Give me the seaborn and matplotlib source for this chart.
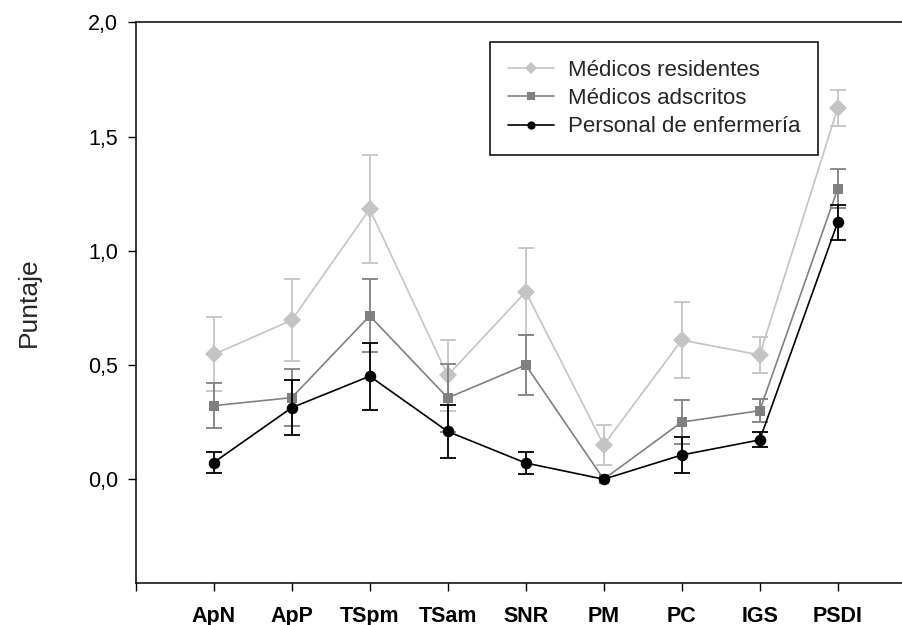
import numpy as np
import pandas as pd
import matplotlib
matplotlib.use("Agg")
import matplotlib.pyplot as plt
from matplotlib.lines import Line2D
import seaborn as sns

categories = ["ApN", "ApP", "TSpm", "TSam", "SNR", "PM", "PC", "IGS", "PSDI"]
series_names = ["Médicos residentes", "Médicos adscritos", "Personal de enfermería"]

residentes = [0.546, 0.696, 1.182, 0.454, 0.820, 0.150, 0.609, 0.544, 1.624]
residentes_err = [0.162, 0.180, 0.237, 0.157, 0.190, 0.087, 0.166, 0.079, 0.079]
adscritos = [0.322, 0.357, 0.715, 0.356, 0.500, 0.000, 0.250, 0.300, 1.271]
adscritos_err = [0.100, 0.125, 0.160, 0.149, 0.131, 0.000, 0.097, 0.050, 0.086]
enfermeria = [0.073, 0.313, 0.451, 0.209, 0.071, 0.000, 0.106, 0.172, 1.124]
enfermeria_err = [0.047, 0.120, 0.146, 0.116, 0.047, 0.000, 0.078, 0.033, 0.076]

y_ticks = [0.0, 0.5, 1.0, 1.5, 2.0]
y_tick_labels = ["0,0", "0,5", "1,0", "1,5", "2,0"]

sns.set_theme(style="white")
plt.rcParams["font.family"] = ["Liberation Sans", "DejaVu Sans"]

x_pos = np.arange(1, len(categories) + 1)
rows = []
for name, vals in zip(series_names, [residentes, adscritos, enfermeria]):
    for x, c, v in zip(x_pos, categories, vals):
        rows.append({"x": x, "cat": c, "serie": name, "valor": v})
df = pd.DataFrame(rows)

colors = {"Médicos residentes": "#c4c4c4",
          "Médicos adscritos": "#808080",
          "Personal de enfermería": "#000000"}
markers = {"Médicos residentes": "D",
           "Médicos adscritos": "s",
           "Personal de enfermería": "o"}
msizes = {"Médicos residentes": 9,
          "Médicos adscritos": 7.3,
          "Personal de enfermería": 8.3}
errs = {"Médicos residentes": residentes_err,
        "Médicos adscritos": adscritos_err,
        "Personal de enfermería": enfermeria_err}

fig = plt.figure(figsize=(9.02, 6.25), dpi=100)
ax = fig.add_axes([135.7 / 902, 42.3 / 625, (915.7 - 135.7) / 902, (582.7 - 22.3) / 625])

for i, name in enumerate(series_names):
    sub = df[df["serie"] == name]
    e = np.array(errs[name])
    mask = e > 0
    ax.errorbar(sub["x"].values[mask], sub["valor"].values[mask], yerr=e[mask],
                fmt="none", ecolor=colors[name], elinewidth=1.3, capsize=6,
                capthick=1.3, zorder=2 + i)
    sns.lineplot(data=sub, x="x", y="valor", ax=ax, color=colors[name],
                 marker=markers[name], markersize=msizes[name],
                 markeredgewidth=0, linewidth=1.2, legend=False,
                 zorder=2.5 + i, errorbar=None)

ax.set_xlim(0, 10)
ax.set_ylim(-0.453, 2.0)
ax.set_xticks([0] + list(x_pos))
ax.set_xticklabels([""] + categories, fontweight="bold", fontsize=15.5)
ax.set_yticks(y_ticks)
ax.set_yticklabels(y_tick_labels, fontsize=15.5)
ax.set_xlabel("")
ax.set_ylabel("Puntaje", fontsize=19, labelpad=34)
ax.tick_params(axis="x", direction="out", length=5.5, width=1.0, pad=11, bottom=True, colors="black")
ax.tick_params(axis="y", direction="out", length=5.5, width=1.0, pad=7, left=True, colors="black")
for s in ["left", "bottom", "top"]:
    ax.spines[s].set_visible(True)
    ax.spines[s].set_color("black")
    ax.spines[s].set_linewidth(1.1)
ax.spines["right"].set_visible(False)
ax.grid(False)

handles = [Line2D([0], [0], color=colors[n], marker=markers[n],
                  markersize=msizes[n] * 0.72, markeredgewidth=0, linewidth=1.2)
           for n in series_names]
leg = ax.legend(handles, series_names, loc="upper left",
                bbox_to_anchor=((490 - 135.7) / 780, 1 - (42.3 - 22.3) / 560.4),
                frameon=True, fancybox=False, edgecolor="black", fontsize=16,
                handlelength=2.1, handletextpad=0.6, labelspacing=0.32,
                borderpad=0.8, borderaxespad=0, framealpha=1)
leg.get_frame().set_linewidth(1.1)

fig.savefig("out.png", dpi=100)
